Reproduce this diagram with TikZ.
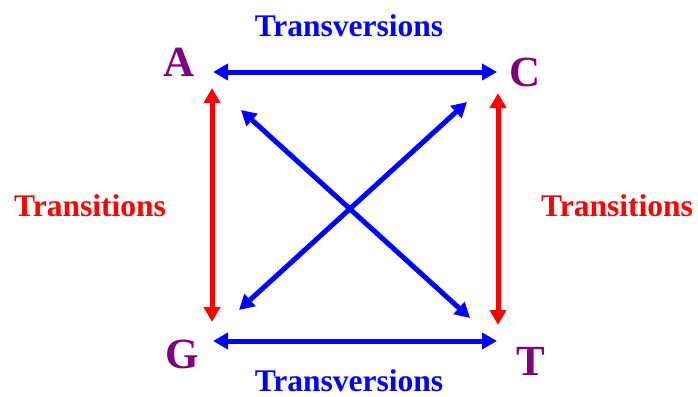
\documentclass[tikz,border=0pt]{standalone}
\usepackage{fontspec}
\setmainfont{Liberation Serif}
\usepackage{xcolor}
\usepackage{tikz}
\usetikzlibrary{positioning, arrows.meta}

\definecolor{basecol}{RGB}{128,0,128}
\definecolor{tvcol}{RGB}{0,0,255}
\definecolor{tscol}{RGB}{255,0,0}

\begin{document}
\begin{tikzpicture}[
    x=1pt, y=-1pt,
    base/.style={anchor=base, inner sep=0pt, text=basecol, font=\fontsize{43}{50}\selectfont\bfseries},
    lbl/.style={anchor=base, inner sep=0pt, font=\fontsize{31.5}{36}\selectfont\bfseries},
    mut/.style={line width=5pt, {Triangle[length=15pt,width=16pt]}-{Triangle[length=15pt,width=16pt]}},
    transv/.style={mut, draw=tvcol},
    transi/.style={mut, draw=tscol}
]
\useasboundingbox (0,0) rectangle (698,396);

% bases
\node[base] (A) at (179,77) {A};
\node[base] (C) at (525,86) {C};
\node[base] (G) at (182,368) {G};
\node[base] (T) at (531,375) {T};

% arrow ends
\coordinate (ac1) at (213,72);
\coordinate (ac2) at (497,72);
\coordinate (gt1) at (213,341);
\coordinate (gt2) at (497,341);
\coordinate (ag1) at (212,88);
\coordinate (ag2) at (212,322);
\coordinate (ct1) at (498,93);
\coordinate (ct2) at (498,325);
\coordinate (at1) at (241,110);
\coordinate (at2) at (470,318);
\coordinate (cg1) at (467,102);
\coordinate (cg2) at (239,310);

% labels
\node[lbl, text=tvcol] (tvtop) at (349,37) {Transversions};
\node[lbl, text=tvcol] (tvbot) at (349,391) {Transversions};
\node[lbl, text=tscol] (tsleft) at (90,216) {Transitions};
\node[lbl, text=tscol] (tsright) at (617,216) {Transitions};

% mutations
\draw[transv] (ac1) -- (ac2);
\draw[transv] (gt1) -- (gt2);
\draw[transi] (ag1) -- (ag2);
\draw[transi] (ct1) -- (ct2);
\draw[transv] (at1) -- (at2);
\draw[transv] (cg1) -- (cg2);
\end{tikzpicture}
\end{document}
